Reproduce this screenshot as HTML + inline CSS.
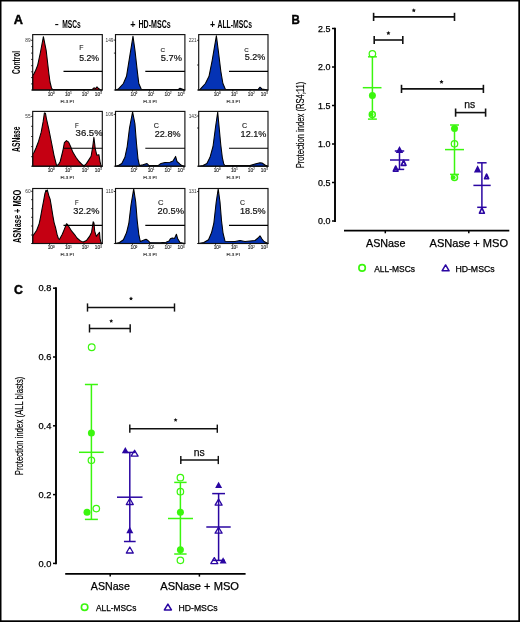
<!DOCTYPE html>
<html><head><meta charset="utf-8"><style>
html,body{margin:0;padding:0;background:#fff;}
svg{display:block;font-family:"Liberation Sans", sans-serif;will-change:transform;}
</style></head><body>
<svg width="520" height="622" viewBox="0 0 520 622">
<rect x="0" y="0" width="520" height="622" fill="#000"/>
<rect x="1.5" y="1.5" width="516.8" height="618.8" fill="#fff"/>
<text x="13.7" y="23.7" font-size="13" font-weight="bold" stroke="#000" stroke-width="0.45" textLength="9.2" lengthAdjust="spacingAndGlyphs">A</text>
<text x="55.0" y="28.0" font-size="11.2" text-anchor="start" font-weight="bold" fill="#000" textLength="3.5" lengthAdjust="spacingAndGlyphs" >–</text>
<text x="62.3" y="28.0" font-size="11.2" text-anchor="start" font-weight="bold" fill="#000" textLength="18.5" lengthAdjust="spacingAndGlyphs" >MSCs</text>
<text x="130.3" y="28.0" font-size="11.2" text-anchor="start" font-weight="bold" fill="#000" textLength="5.3" lengthAdjust="spacingAndGlyphs" >+</text>
<text x="138.5" y="28.0" font-size="11.2" text-anchor="start" font-weight="bold" fill="#000" textLength="32.2" lengthAdjust="spacingAndGlyphs" >HD-MSCs</text>
<text x="210.0" y="28.0" font-size="11.2" text-anchor="start" font-weight="bold" fill="#000" textLength="5.1" lengthAdjust="spacingAndGlyphs" >+</text>
<text x="217.5" y="28.0" font-size="11.2" text-anchor="start" font-weight="bold" fill="#000" textLength="34.5" lengthAdjust="spacingAndGlyphs" >ALL-MSCs</text>
<text transform="translate(16.3,62.5) rotate(-90)" x="0" y="0" font-size="11" text-anchor="middle" font-weight="bold" dominant-baseline="central" stroke="#000" stroke-width="0" textLength="23.2" lengthAdjust="spacingAndGlyphs">Control</text>
<text transform="translate(16.3,139.2) rotate(-90)" x="0" y="0" font-size="11" text-anchor="middle" font-weight="bold" dominant-baseline="central" stroke="#000" stroke-width="0" textLength="25.4" lengthAdjust="spacingAndGlyphs">ASNase</text>
<text transform="translate(16.8,216.35) rotate(-90)" x="0" y="0" font-size="11" text-anchor="middle" font-weight="bold" dominant-baseline="central" stroke="#000" stroke-width="0" textLength="53.3" lengthAdjust="spacingAndGlyphs">ASNase + MSO</text>
<path d="M32.7,90 L32.7,75.4 L33.6,74.4 L35.7,70.3 L37.7,65.1 L40.5,52 L43.4,36.7 L46.2,50.6 L47.3,60 L48.8,73 L50,82 L51.5,88 L52.6,89.6 L92,89.6 L94,87.8 L95.5,88.6 L97,86.8 L98.5,88.5 L100,89.5 L102,90 Z" fill="#c50012" stroke="#000" stroke-width="1.05" stroke-linejoin="round"/>
<rect x="32.7" y="34.6" width="69.60" height="55.40" fill="none" stroke="#111" stroke-width="1.15"/>
<line x1="63.5" y1="71.4" x2="102.3" y2="71.4" stroke="#000" stroke-width="1.1"/>
<text x="79.2" y="50.3" font-size="6.9" text-anchor="start" font-weight="normal" fill="#222" textLength="4.2" lengthAdjust="spacingAndGlyphs" stroke="#222" stroke-width="0.12" >F</text>
<text x="79.2" y="60.699999999999996" font-size="9.0" text-anchor="start" font-weight="normal" fill="#111" textLength="19.9" lengthAdjust="spacingAndGlyphs" stroke="#111" stroke-width="0.2" >5.2%</text>
<line x1="31.1" y1="40.3" x2="32.7" y2="40.3" stroke="#000" stroke-width="0.8"/>
<line x1="31.1" y1="46.6" x2="32.7" y2="46.6" stroke="#000" stroke-width="0.8"/>
<line x1="31.1" y1="53.1" x2="32.7" y2="53.1" stroke="#000" stroke-width="0.8"/>
<line x1="31.1" y1="59.4" x2="32.7" y2="59.4" stroke="#000" stroke-width="0.8"/>
<line x1="31.1" y1="65.7" x2="32.7" y2="65.7" stroke="#000" stroke-width="0.8"/>
<line x1="31.1" y1="71.8" x2="32.7" y2="71.8" stroke="#000" stroke-width="0.8"/>
<line x1="31.1" y1="77.6" x2="32.7" y2="77.6" stroke="#000" stroke-width="0.8"/>
<line x1="31.1" y1="83.9" x2="32.7" y2="83.9" stroke="#000" stroke-width="0.8"/>
<line x1="31.1" y1="90.0" x2="32.7" y2="90.0" stroke="#000" stroke-width="0.8"/>
<text x="30.700000000000003" y="42.0" font-size="4.8" text-anchor="end" font-weight="normal" fill="#333" >89</text>
<text x="51.1" y="95.6" font-size="4.8" text-anchor="middle" font-weight="normal" fill="#222" stroke="#222" stroke-width="0.12" >10<tspan font-size="2.6" dy="-1.6">0</tspan></text>
<text x="68.30000000000001" y="95.6" font-size="4.8" text-anchor="middle" font-weight="normal" fill="#222" stroke="#222" stroke-width="0.12" >10<tspan font-size="2.6" dy="-1.6">1</tspan></text>
<text x="85.2" y="95.6" font-size="4.8" text-anchor="middle" font-weight="normal" fill="#222" stroke="#222" stroke-width="0.12" >10<tspan font-size="2.6" dy="-1.6">2</tspan></text>
<text x="98.2" y="95.6" font-size="4.8" text-anchor="middle" font-weight="normal" fill="#222" stroke="#222" stroke-width="0.12" >10<tspan font-size="2.6" dy="-1.6">3</tspan></text>
<text x="67.2" y="102.6" font-size="4.4" text-anchor="middle" font-weight="normal" fill="#222" textLength="13.5" lengthAdjust="spacingAndGlyphs" stroke="#222" stroke-width="0.12" >FL3 PI</text>
<line x1="49.6" y1="90.0" x2="49.6" y2="91.6" stroke="#000" stroke-width="0.7"/>
<line x1="66.8" y1="90.0" x2="66.8" y2="91.6" stroke="#000" stroke-width="0.7"/>
<line x1="84.0" y1="90.0" x2="84.0" y2="91.6" stroke="#000" stroke-width="0.7"/>
<line x1="101.2" y1="90.0" x2="101.2" y2="91.6" stroke="#000" stroke-width="0.7"/>
<path d="M115.5,90 L118.3,89.1 L123.4,83.5 L126.5,76.3 L129,60.8 L133,36.2 L135,50.6 L137.3,71.1 L138.8,83.5 L141.4,89.5 L178,89.6 L180,88.3 L182,89 L184.8,90 Z" fill="#0533b5" stroke="#000" stroke-width="1.05" stroke-linejoin="round"/>
<rect x="115.5" y="34.6" width="69.40" height="55.40" fill="none" stroke="#111" stroke-width="1.15"/>
<line x1="145.3" y1="71.4" x2="184.9" y2="71.4" stroke="#000" stroke-width="1.1"/>
<text x="160.4" y="51.699999999999996" font-size="6.0" text-anchor="start" font-weight="normal" fill="#222" textLength="4.6" lengthAdjust="spacingAndGlyphs" stroke="#222" stroke-width="0.12" >C</text>
<text x="160.8" y="61.0" font-size="9.0" text-anchor="start" font-weight="normal" fill="#111" textLength="21.1" lengthAdjust="spacingAndGlyphs" stroke="#111" stroke-width="0.2" >5.7%</text>
<line x1="113.9" y1="40.1" x2="115.5" y2="40.1" stroke="#000" stroke-width="0.8"/>
<line x1="113.9" y1="53.1" x2="115.5" y2="53.1" stroke="#000" stroke-width="0.8"/>
<line x1="113.9" y1="90.0" x2="115.5" y2="90.0" stroke="#000" stroke-width="0.8"/>
<text x="113.5" y="41.800000000000004" font-size="4.8" text-anchor="end" font-weight="normal" fill="#333" >149</text>
<text x="133.9" y="95.6" font-size="4.8" text-anchor="middle" font-weight="normal" fill="#222" stroke="#222" stroke-width="0.12" >10<tspan font-size="2.6" dy="-1.6">0</tspan></text>
<text x="151.1" y="95.6" font-size="4.8" text-anchor="middle" font-weight="normal" fill="#222" stroke="#222" stroke-width="0.12" >10<tspan font-size="2.6" dy="-1.6">1</tspan></text>
<text x="168.0" y="95.6" font-size="4.8" text-anchor="middle" font-weight="normal" fill="#222" stroke="#222" stroke-width="0.12" >10<tspan font-size="2.6" dy="-1.6">2</tspan></text>
<text x="181.0" y="95.6" font-size="4.8" text-anchor="middle" font-weight="normal" fill="#222" stroke="#222" stroke-width="0.12" >10<tspan font-size="2.6" dy="-1.6">3</tspan></text>
<text x="150.0" y="102.6" font-size="4.4" text-anchor="middle" font-weight="normal" fill="#222" textLength="13.5" lengthAdjust="spacingAndGlyphs" stroke="#222" stroke-width="0.12" >FL3 PI</text>
<line x1="132.4" y1="90.0" x2="132.4" y2="91.6" stroke="#000" stroke-width="0.7"/>
<line x1="149.6" y1="90.0" x2="149.6" y2="91.6" stroke="#000" stroke-width="0.7"/>
<line x1="166.8" y1="90.0" x2="166.8" y2="91.6" stroke="#000" stroke-width="0.7"/>
<line x1="184.0" y1="90.0" x2="184.0" y2="91.6" stroke="#000" stroke-width="0.7"/>
<path d="M198.7,90 L200.3,89.1 L205.4,83.5 L209,76.3 L212.1,60.8 L216.4,35.7 L218.3,50.6 L220.8,71.1 L222.9,83.5 L225.5,89.5 L258,89.6 L260,87.2 L262,89 L268,90 Z" fill="#0533b5" stroke="#000" stroke-width="1.05" stroke-linejoin="round"/>
<rect x="198.7" y="34.6" width="69.30" height="55.40" fill="none" stroke="#111" stroke-width="1.15"/>
<line x1="229.0" y1="71.4" x2="268.0" y2="71.4" stroke="#000" stroke-width="1.1"/>
<text x="244.2" y="51.9" font-size="6.0" text-anchor="start" font-weight="normal" fill="#222" textLength="4.5" lengthAdjust="spacingAndGlyphs" stroke="#222" stroke-width="0.12" >C</text>
<text x="244.8" y="60.4" font-size="9.0" text-anchor="start" font-weight="normal" fill="#111" textLength="20.6" lengthAdjust="spacingAndGlyphs" stroke="#111" stroke-width="0.2" >5.2%</text>
<line x1="197.1" y1="40.3" x2="198.7" y2="40.3" stroke="#000" stroke-width="0.8"/>
<line x1="197.1" y1="65.0" x2="198.7" y2="65.0" stroke="#000" stroke-width="0.8"/>
<line x1="197.1" y1="90.0" x2="198.7" y2="90.0" stroke="#000" stroke-width="0.8"/>
<text x="196.7" y="42.0" font-size="4.8" text-anchor="end" font-weight="normal" fill="#333" >221</text>
<text x="217.1" y="95.6" font-size="4.8" text-anchor="middle" font-weight="normal" fill="#222" stroke="#222" stroke-width="0.12" >10<tspan font-size="2.6" dy="-1.6">0</tspan></text>
<text x="234.29999999999998" y="95.6" font-size="4.8" text-anchor="middle" font-weight="normal" fill="#222" stroke="#222" stroke-width="0.12" >10<tspan font-size="2.6" dy="-1.6">1</tspan></text>
<text x="251.2" y="95.6" font-size="4.8" text-anchor="middle" font-weight="normal" fill="#222" stroke="#222" stroke-width="0.12" >10<tspan font-size="2.6" dy="-1.6">2</tspan></text>
<text x="264.2" y="95.6" font-size="4.8" text-anchor="middle" font-weight="normal" fill="#222" stroke="#222" stroke-width="0.12" >10<tspan font-size="2.6" dy="-1.6">3</tspan></text>
<text x="233.2" y="102.6" font-size="4.4" text-anchor="middle" font-weight="normal" fill="#222" textLength="13.5" lengthAdjust="spacingAndGlyphs" stroke="#222" stroke-width="0.12" >FL3 PI</text>
<line x1="215.6" y1="90.0" x2="215.6" y2="91.6" stroke="#000" stroke-width="0.7"/>
<line x1="232.8" y1="90.0" x2="232.8" y2="91.6" stroke="#000" stroke-width="0.7"/>
<line x1="250.0" y1="90.0" x2="250.0" y2="91.6" stroke="#000" stroke-width="0.7"/>
<line x1="267.2" y1="90.0" x2="267.2" y2="91.6" stroke="#000" stroke-width="0.7"/>
<path d="M32.7,166.2 L32.7,154 L34,152.5 L36,148 L38.6,141.2 L41.2,132.2 L43.1,121.9 L44.4,112.9 L45.5,113.3 L46.3,118 L48.9,129.6 L51.5,142.5 L54,155.3 L56.6,165.6 L58.5,164.5 L60.2,161.5 L62.8,151 L64.4,142.7 L66.5,140.6 L68.6,142.1 L70.7,146.8 L72.8,152.1 L75.9,157.3 L79,161.5 L82.7,165.1 L84.3,165.7 L86.4,163.6 L88.5,160.4 L91.1,156.3 L92.7,146.8 L93.9,137.4 L95.3,148.9 L96.8,155.2 L98.9,154.7 L100,161.5 L101,165.7 L102.3,166.2 Z" fill="#c50012" stroke="#000" stroke-width="1.05" stroke-linejoin="round"/>
<rect x="32.7" y="111.4" width="69.60" height="54.80" fill="none" stroke="#111" stroke-width="1.15"/>
<line x1="63.5" y1="148.3" x2="102.3" y2="148.3" stroke="#000" stroke-width="1.1"/>
<text x="75.1" y="128.20000000000002" font-size="7.3" text-anchor="start" font-weight="normal" fill="#222" textLength="3.7" lengthAdjust="spacingAndGlyphs" stroke="#222" stroke-width="0.12" >F</text>
<text x="75.6" y="136.10000000000002" font-size="9.0" text-anchor="start" font-weight="normal" fill="#111" textLength="27.1" lengthAdjust="spacingAndGlyphs" stroke="#111" stroke-width="0.2" >36.5%</text>
<line x1="31.1" y1="116.4" x2="32.7" y2="116.4" stroke="#000" stroke-width="0.8"/>
<line x1="31.1" y1="126.3" x2="32.7" y2="126.3" stroke="#000" stroke-width="0.8"/>
<line x1="31.1" y1="136.5" x2="32.7" y2="136.5" stroke="#000" stroke-width="0.8"/>
<line x1="31.1" y1="146.6" x2="32.7" y2="146.6" stroke="#000" stroke-width="0.8"/>
<line x1="31.1" y1="156.7" x2="32.7" y2="156.7" stroke="#000" stroke-width="0.8"/>
<line x1="31.1" y1="166.2" x2="32.7" y2="166.2" stroke="#000" stroke-width="0.8"/>
<text x="30.700000000000003" y="118.10000000000001" font-size="4.8" text-anchor="end" font-weight="normal" fill="#333" >55</text>
<text x="51.1" y="171.79999999999998" font-size="4.8" text-anchor="middle" font-weight="normal" fill="#222" stroke="#222" stroke-width="0.12" >10<tspan font-size="2.6" dy="-1.6">0</tspan></text>
<text x="68.30000000000001" y="171.79999999999998" font-size="4.8" text-anchor="middle" font-weight="normal" fill="#222" stroke="#222" stroke-width="0.12" >10<tspan font-size="2.6" dy="-1.6">1</tspan></text>
<text x="85.2" y="171.79999999999998" font-size="4.8" text-anchor="middle" font-weight="normal" fill="#222" stroke="#222" stroke-width="0.12" >10<tspan font-size="2.6" dy="-1.6">2</tspan></text>
<text x="98.2" y="171.79999999999998" font-size="4.8" text-anchor="middle" font-weight="normal" fill="#222" stroke="#222" stroke-width="0.12" >10<tspan font-size="2.6" dy="-1.6">3</tspan></text>
<text x="67.2" y="178.79999999999998" font-size="4.4" text-anchor="middle" font-weight="normal" fill="#222" textLength="13.5" lengthAdjust="spacingAndGlyphs" stroke="#222" stroke-width="0.12" >FL3 PI</text>
<line x1="49.6" y1="166.2" x2="49.6" y2="167.79999999999998" stroke="#000" stroke-width="0.7"/>
<line x1="66.8" y1="166.2" x2="66.8" y2="167.79999999999998" stroke="#000" stroke-width="0.7"/>
<line x1="84.0" y1="166.2" x2="84.0" y2="167.79999999999998" stroke="#000" stroke-width="0.7"/>
<line x1="101.2" y1="166.2" x2="101.2" y2="167.79999999999998" stroke="#000" stroke-width="0.7"/>
<path d="M115.5,166.2 L118.8,165.3 L121.8,163.5 L124.9,157.3 L127.2,146.5 L129.5,128 L132.6,111.9 L134.9,123.5 L136.5,143.5 L138,158.8 L139.5,165.6 L143,164.8 L147,163.5 L149,165.6 L158,165.6 L161,163.4 L165,162.6 L170,162.2 L173,161 L175.6,156.4 L177,161.5 L180,164.2 L182,165.6 L184.9,166.2 Z" fill="#0533b5" stroke="#000" stroke-width="1.05" stroke-linejoin="round"/>
<rect x="115.5" y="111.4" width="69.40" height="54.80" fill="none" stroke="#111" stroke-width="1.15"/>
<line x1="145.3" y1="148.3" x2="184.9" y2="148.3" stroke="#000" stroke-width="1.1"/>
<text x="153.8" y="128.20000000000002" font-size="7.3" text-anchor="start" font-weight="normal" fill="#222" textLength="5.2" lengthAdjust="spacingAndGlyphs" stroke="#222" stroke-width="0.12" >C</text>
<text x="154.8" y="136.9" font-size="9.0" text-anchor="start" font-weight="normal" fill="#111" textLength="25.7" lengthAdjust="spacingAndGlyphs" stroke="#111" stroke-width="0.2" >22.8%</text>
<line x1="113.9" y1="114.4" x2="115.5" y2="114.4" stroke="#000" stroke-width="0.8"/>
<line x1="113.9" y1="166.2" x2="115.5" y2="166.2" stroke="#000" stroke-width="0.8"/>
<text x="113.5" y="116.10000000000001" font-size="4.8" text-anchor="end" font-weight="normal" fill="#333" >106</text>
<text x="133.9" y="171.79999999999998" font-size="4.8" text-anchor="middle" font-weight="normal" fill="#222" stroke="#222" stroke-width="0.12" >10<tspan font-size="2.6" dy="-1.6">0</tspan></text>
<text x="151.1" y="171.79999999999998" font-size="4.8" text-anchor="middle" font-weight="normal" fill="#222" stroke="#222" stroke-width="0.12" >10<tspan font-size="2.6" dy="-1.6">1</tspan></text>
<text x="168.0" y="171.79999999999998" font-size="4.8" text-anchor="middle" font-weight="normal" fill="#222" stroke="#222" stroke-width="0.12" >10<tspan font-size="2.6" dy="-1.6">2</tspan></text>
<text x="181.0" y="171.79999999999998" font-size="4.8" text-anchor="middle" font-weight="normal" fill="#222" stroke="#222" stroke-width="0.12" >10<tspan font-size="2.6" dy="-1.6">3</tspan></text>
<text x="150.0" y="178.79999999999998" font-size="4.4" text-anchor="middle" font-weight="normal" fill="#222" textLength="13.5" lengthAdjust="spacingAndGlyphs" stroke="#222" stroke-width="0.12" >FL3 PI</text>
<line x1="132.4" y1="166.2" x2="132.4" y2="167.79999999999998" stroke="#000" stroke-width="0.7"/>
<line x1="149.6" y1="166.2" x2="149.6" y2="167.79999999999998" stroke="#000" stroke-width="0.7"/>
<line x1="166.8" y1="166.2" x2="166.8" y2="167.79999999999998" stroke="#000" stroke-width="0.7"/>
<line x1="184.0" y1="166.2" x2="184.0" y2="167.79999999999998" stroke="#000" stroke-width="0.7"/>
<path d="M198.7,166.2 L203,165.5 L206.9,163.5 L210,157.3 L213,146.5 L215.4,128 L217.7,112 L219.2,128 L220.8,145 L222.3,157.3 L223.8,164.2 L225,165.5 L250,165.5 L255,164 L260,162.7 L262,163 L265,165 L268,166.2 Z" fill="#0533b5" stroke="#000" stroke-width="1.05" stroke-linejoin="round"/>
<rect x="198.7" y="111.4" width="69.30" height="54.80" fill="none" stroke="#111" stroke-width="1.15"/>
<line x1="229.0" y1="148.3" x2="268.0" y2="148.3" stroke="#000" stroke-width="1.1"/>
<text x="241.9" y="128.20000000000002" font-size="7.3" text-anchor="start" font-weight="normal" fill="#222" textLength="5.2" lengthAdjust="spacingAndGlyphs" stroke="#222" stroke-width="0.12" >C</text>
<text x="240.6" y="136.8" font-size="9.0" text-anchor="start" font-weight="normal" fill="#111" textLength="25.8" lengthAdjust="spacingAndGlyphs" stroke="#111" stroke-width="0.2" >12.1%</text>
<line x1="197.1" y1="116.0" x2="198.7" y2="116.0" stroke="#000" stroke-width="0.8"/>
<line x1="197.1" y1="128.0" x2="198.7" y2="128.0" stroke="#000" stroke-width="0.8"/>
<line x1="197.1" y1="166.2" x2="198.7" y2="166.2" stroke="#000" stroke-width="0.8"/>
<text x="196.7" y="117.7" font-size="4.8" text-anchor="end" font-weight="normal" fill="#333" >143</text>
<text x="217.1" y="171.79999999999998" font-size="4.8" text-anchor="middle" font-weight="normal" fill="#222" stroke="#222" stroke-width="0.12" >10<tspan font-size="2.6" dy="-1.6">0</tspan></text>
<text x="234.29999999999998" y="171.79999999999998" font-size="4.8" text-anchor="middle" font-weight="normal" fill="#222" stroke="#222" stroke-width="0.12" >10<tspan font-size="2.6" dy="-1.6">1</tspan></text>
<text x="251.2" y="171.79999999999998" font-size="4.8" text-anchor="middle" font-weight="normal" fill="#222" stroke="#222" stroke-width="0.12" >10<tspan font-size="2.6" dy="-1.6">2</tspan></text>
<text x="264.2" y="171.79999999999998" font-size="4.8" text-anchor="middle" font-weight="normal" fill="#222" stroke="#222" stroke-width="0.12" >10<tspan font-size="2.6" dy="-1.6">3</tspan></text>
<text x="233.2" y="178.79999999999998" font-size="4.4" text-anchor="middle" font-weight="normal" fill="#222" textLength="13.5" lengthAdjust="spacingAndGlyphs" stroke="#222" stroke-width="0.12" >FL3 PI</text>
<line x1="215.6" y1="166.2" x2="215.6" y2="167.79999999999998" stroke="#000" stroke-width="0.7"/>
<line x1="232.8" y1="166.2" x2="232.8" y2="167.79999999999998" stroke="#000" stroke-width="0.7"/>
<line x1="250.0" y1="166.2" x2="250.0" y2="167.79999999999998" stroke="#000" stroke-width="0.7"/>
<line x1="267.2" y1="166.2" x2="267.2" y2="167.79999999999998" stroke="#000" stroke-width="0.7"/>
<path d="M32.7,243.5 L32.7,236.1 L34.5,233.5 L36.7,230.3 L39.2,223.6 L40.6,216.8 L42,209.1 L43.5,201.4 L44.9,193.7 L45.9,190.3 L46.6,191.5 L47.3,189.9 L48.8,195.6 L50.2,199.5 L51.2,205.3 L52.7,214.9 L54.1,222.6 L55.5,227.4 L57,234.2 L58.4,238.5 L59.4,239.5 L62.3,234.3 L64.4,229.1 L66.5,223.8 L67.5,224.5 L69.1,227 L71.7,231.2 L74.4,234.3 L77,238 L80.1,240.6 L83.2,242.1 L86.4,240.6 L89.5,236.4 L91.6,232.2 L93.2,221.7 L94,223 L94.7,231.2 L96.3,236.4 L97.9,234.3 L99.5,232.2 L100,238.5 L101,242.7 L102.3,243.5 Z" fill="#c50012" stroke="#000" stroke-width="1.05" stroke-linejoin="round"/>
<rect x="32.7" y="188.5" width="69.60" height="55.00" fill="none" stroke="#111" stroke-width="1.15"/>
<line x1="63.5" y1="225.4" x2="102.3" y2="225.4" stroke="#000" stroke-width="1.1"/>
<text x="74.9" y="205.3" font-size="7.3" text-anchor="start" font-weight="normal" fill="#222" textLength="3.6" lengthAdjust="spacingAndGlyphs" stroke="#222" stroke-width="0.12" >F</text>
<text x="73.3" y="213.8" font-size="9.0" text-anchor="start" font-weight="normal" fill="#111" textLength="26.1" lengthAdjust="spacingAndGlyphs" stroke="#111" stroke-width="0.2" >32.2%</text>
<line x1="31.1" y1="191.3" x2="32.7" y2="191.3" stroke="#000" stroke-width="0.8"/>
<line x1="31.1" y1="199.7" x2="32.7" y2="199.7" stroke="#000" stroke-width="0.8"/>
<line x1="31.1" y1="208.6" x2="32.7" y2="208.6" stroke="#000" stroke-width="0.8"/>
<line x1="31.1" y1="217.3" x2="32.7" y2="217.3" stroke="#000" stroke-width="0.8"/>
<line x1="31.1" y1="226.0" x2="32.7" y2="226.0" stroke="#000" stroke-width="0.8"/>
<line x1="31.1" y1="235.0" x2="32.7" y2="235.0" stroke="#000" stroke-width="0.8"/>
<line x1="31.1" y1="243.5" x2="32.7" y2="243.5" stroke="#000" stroke-width="0.8"/>
<text x="30.700000000000003" y="193.0" font-size="4.8" text-anchor="end" font-weight="normal" fill="#333" >60</text>
<text x="51.1" y="249.1" font-size="4.8" text-anchor="middle" font-weight="normal" fill="#222" stroke="#222" stroke-width="0.12" >10<tspan font-size="2.6" dy="-1.6">0</tspan></text>
<text x="68.30000000000001" y="249.1" font-size="4.8" text-anchor="middle" font-weight="normal" fill="#222" stroke="#222" stroke-width="0.12" >10<tspan font-size="2.6" dy="-1.6">1</tspan></text>
<text x="85.2" y="249.1" font-size="4.8" text-anchor="middle" font-weight="normal" fill="#222" stroke="#222" stroke-width="0.12" >10<tspan font-size="2.6" dy="-1.6">2</tspan></text>
<text x="98.2" y="249.1" font-size="4.8" text-anchor="middle" font-weight="normal" fill="#222" stroke="#222" stroke-width="0.12" >10<tspan font-size="2.6" dy="-1.6">3</tspan></text>
<text x="67.2" y="256.1" font-size="4.4" text-anchor="middle" font-weight="normal" fill="#222" textLength="13.5" lengthAdjust="spacingAndGlyphs" stroke="#222" stroke-width="0.12" >FL3 PI</text>
<line x1="49.6" y1="243.5" x2="49.6" y2="245.1" stroke="#000" stroke-width="0.7"/>
<line x1="66.8" y1="243.5" x2="66.8" y2="245.1" stroke="#000" stroke-width="0.7"/>
<line x1="84.0" y1="243.5" x2="84.0" y2="245.1" stroke="#000" stroke-width="0.7"/>
<line x1="101.2" y1="243.5" x2="101.2" y2="245.1" stroke="#000" stroke-width="0.7"/>
<path d="M115.5,243.5 L119.5,242.5 L123.4,239.7 L126.5,232.8 L128.8,223.5 L131,205 L133.7,188.9 L135.7,202 L137.2,220.5 L138.8,234.3 L140.3,241.5 L143.4,240.2 L146,239.3 L148,240.5 L150,242.6 L160,242.8 L166,242.2 L169,241 L170.4,238.8 L172.3,238.1 L174.5,238.4 L176.4,234.2 L177.6,238.5 L180,242.6 L184.8,243.5 Z" fill="#0533b5" stroke="#000" stroke-width="1.05" stroke-linejoin="round"/>
<rect x="115.5" y="188.5" width="69.40" height="55.00" fill="none" stroke="#111" stroke-width="1.15"/>
<line x1="145.3" y1="225.4" x2="184.9" y2="225.4" stroke="#000" stroke-width="1.1"/>
<text x="158.0" y="204.5" font-size="6.5" text-anchor="start" font-weight="normal" fill="#222" textLength="5.5" lengthAdjust="spacingAndGlyphs" stroke="#222" stroke-width="0.12" >C</text>
<text x="157.6" y="213.8" font-size="9.0" text-anchor="start" font-weight="normal" fill="#111" textLength="26.4" lengthAdjust="spacingAndGlyphs" stroke="#111" stroke-width="0.2" >20.5%</text>
<line x1="113.9" y1="191.5" x2="115.5" y2="191.5" stroke="#000" stroke-width="0.8"/>
<line x1="113.9" y1="243.5" x2="115.5" y2="243.5" stroke="#000" stroke-width="0.8"/>
<text x="113.5" y="193.2" font-size="4.8" text-anchor="end" font-weight="normal" fill="#333" >110</text>
<text x="133.9" y="249.1" font-size="4.8" text-anchor="middle" font-weight="normal" fill="#222" stroke="#222" stroke-width="0.12" >10<tspan font-size="2.6" dy="-1.6">0</tspan></text>
<text x="151.1" y="249.1" font-size="4.8" text-anchor="middle" font-weight="normal" fill="#222" stroke="#222" stroke-width="0.12" >10<tspan font-size="2.6" dy="-1.6">1</tspan></text>
<text x="168.0" y="249.1" font-size="4.8" text-anchor="middle" font-weight="normal" fill="#222" stroke="#222" stroke-width="0.12" >10<tspan font-size="2.6" dy="-1.6">2</tspan></text>
<text x="181.0" y="249.1" font-size="4.8" text-anchor="middle" font-weight="normal" fill="#222" stroke="#222" stroke-width="0.12" >10<tspan font-size="2.6" dy="-1.6">3</tspan></text>
<text x="150.0" y="256.1" font-size="4.4" text-anchor="middle" font-weight="normal" fill="#222" textLength="13.5" lengthAdjust="spacingAndGlyphs" stroke="#222" stroke-width="0.12" >FL3 PI</text>
<line x1="132.4" y1="243.5" x2="132.4" y2="245.1" stroke="#000" stroke-width="0.7"/>
<line x1="149.6" y1="243.5" x2="149.6" y2="245.1" stroke="#000" stroke-width="0.7"/>
<line x1="166.8" y1="243.5" x2="166.8" y2="245.1" stroke="#000" stroke-width="0.7"/>
<line x1="184.0" y1="243.5" x2="184.0" y2="245.1" stroke="#000" stroke-width="0.7"/>
<path d="M198.7,243.5 L203.8,242.5 L208.5,239.7 L211.5,232.8 L213.8,223.5 L216.2,202 L218.2,188.9 L220,202 L221.5,220.5 L223,232.8 L225,241.2 L235,241.5 L240,240.5 L245,241.5 L255,240.5 L258,238 L260,235.8 L262,239 L264,241.5 L268,243.5 Z" fill="#0533b5" stroke="#000" stroke-width="1.05" stroke-linejoin="round"/>
<rect x="198.7" y="188.5" width="69.30" height="55.00" fill="none" stroke="#111" stroke-width="1.15"/>
<line x1="229.0" y1="225.4" x2="268.0" y2="225.4" stroke="#000" stroke-width="1.1"/>
<text x="240.1" y="204.9" font-size="6.8" text-anchor="start" font-weight="normal" fill="#222" textLength="5.0" lengthAdjust="spacingAndGlyphs" stroke="#222" stroke-width="0.12" >C</text>
<text x="239.9" y="213.8" font-size="9.0" text-anchor="start" font-weight="normal" fill="#111" textLength="25.8" lengthAdjust="spacingAndGlyphs" stroke="#111" stroke-width="0.2" >18.5%</text>
<line x1="197.1" y1="191.5" x2="198.7" y2="191.5" stroke="#000" stroke-width="0.8"/>
<line x1="197.1" y1="243.5" x2="198.7" y2="243.5" stroke="#000" stroke-width="0.8"/>
<text x="196.7" y="193.2" font-size="4.8" text-anchor="end" font-weight="normal" fill="#333" >131</text>
<text x="217.1" y="249.1" font-size="4.8" text-anchor="middle" font-weight="normal" fill="#222" stroke="#222" stroke-width="0.12" >10<tspan font-size="2.6" dy="-1.6">0</tspan></text>
<text x="234.29999999999998" y="249.1" font-size="4.8" text-anchor="middle" font-weight="normal" fill="#222" stroke="#222" stroke-width="0.12" >10<tspan font-size="2.6" dy="-1.6">1</tspan></text>
<text x="251.2" y="249.1" font-size="4.8" text-anchor="middle" font-weight="normal" fill="#222" stroke="#222" stroke-width="0.12" >10<tspan font-size="2.6" dy="-1.6">2</tspan></text>
<text x="264.2" y="249.1" font-size="4.8" text-anchor="middle" font-weight="normal" fill="#222" stroke="#222" stroke-width="0.12" >10<tspan font-size="2.6" dy="-1.6">3</tspan></text>
<text x="233.2" y="256.1" font-size="4.4" text-anchor="middle" font-weight="normal" fill="#222" textLength="13.5" lengthAdjust="spacingAndGlyphs" stroke="#222" stroke-width="0.12" >FL3 PI</text>
<line x1="215.6" y1="243.5" x2="215.6" y2="245.1" stroke="#000" stroke-width="0.7"/>
<line x1="232.8" y1="243.5" x2="232.8" y2="245.1" stroke="#000" stroke-width="0.7"/>
<line x1="250.0" y1="243.5" x2="250.0" y2="245.1" stroke="#000" stroke-width="0.7"/>
<line x1="267.2" y1="243.5" x2="267.2" y2="245.1" stroke="#000" stroke-width="0.7"/>
<text x="291.5" y="23.8" font-size="13" text-anchor="start" font-weight="bold" fill="#000" textLength="8.3" lengthAdjust="spacingAndGlyphs" stroke="#000" stroke-width="0.45">B</text>
<line x1="335" y1="27.8" x2="335" y2="221.9" stroke="#000" stroke-width="1.9"/>
<line x1="332" y1="28.5" x2="335" y2="28.5" stroke="#000" stroke-width="1.5"/>
<text x="330.5" y="31.7" font-size="9" text-anchor="end" font-weight="normal" fill="#000" textLength="12.4" lengthAdjust="spacingAndGlyphs" stroke="#000" stroke-width="0.25" >2.5</text>
<line x1="332" y1="67.0" x2="335" y2="67.0" stroke="#000" stroke-width="1.5"/>
<text x="330.5" y="70.2" font-size="9" text-anchor="end" font-weight="normal" fill="#000" textLength="12.4" lengthAdjust="spacingAndGlyphs" stroke="#000" stroke-width="0.25" >2.0</text>
<line x1="332" y1="105.5" x2="335" y2="105.5" stroke="#000" stroke-width="1.5"/>
<text x="330.5" y="108.7" font-size="9" text-anchor="end" font-weight="normal" fill="#000" textLength="12.4" lengthAdjust="spacingAndGlyphs" stroke="#000" stroke-width="0.25" >1.5</text>
<line x1="332" y1="144.0" x2="335" y2="144.0" stroke="#000" stroke-width="1.5"/>
<text x="330.5" y="147.2" font-size="9" text-anchor="end" font-weight="normal" fill="#000" textLength="12.4" lengthAdjust="spacingAndGlyphs" stroke="#000" stroke-width="0.25" >1.0</text>
<line x1="332" y1="182.5" x2="335" y2="182.5" stroke="#000" stroke-width="1.5"/>
<text x="330.5" y="185.7" font-size="9" text-anchor="end" font-weight="normal" fill="#000" textLength="12.4" lengthAdjust="spacingAndGlyphs" stroke="#000" stroke-width="0.25" >0.5</text>
<line x1="332" y1="221.0" x2="335" y2="221.0" stroke="#000" stroke-width="1.5"/>
<text x="330.5" y="224.2" font-size="9" text-anchor="end" font-weight="normal" fill="#000" textLength="12.4" lengthAdjust="spacingAndGlyphs" stroke="#000" stroke-width="0.25" >0.0</text>
<text transform="translate(299.8,125.0) rotate(-90)" x="0" y="0" font-size="11.2" text-anchor="middle" font-weight="normal" dominant-baseline="central" stroke="#000" stroke-width="0.2" textLength="86.6" lengthAdjust="spacingAndGlyphs">Protection index (RS4;11)</text>
<line x1="344" y1="230.6" x2="509.3" y2="230.6" stroke="#000" stroke-width="1.9"/>
<line x1="385.3" y1="230.6" x2="385.3" y2="233.3" stroke="#000" stroke-width="1.5"/>
<line x1="468.8" y1="230.6" x2="468.8" y2="233.3" stroke="#000" stroke-width="1.5"/>
<text x="385.7" y="247.3" font-size="11" text-anchor="middle" font-weight="normal" fill="#000" textLength="39.4" lengthAdjust="spacingAndGlyphs" stroke="#000" stroke-width="0.25" >ASNase</text>
<text x="468.8" y="247.3" font-size="11" text-anchor="middle" font-weight="normal" fill="#000" textLength="78.5" lengthAdjust="spacingAndGlyphs" stroke="#000" stroke-width="0.25" >ASNase + MSO</text>
<circle cx="362.1" cy="267.9" r="3.22" fill="none" stroke="#3bf60e" stroke-width="1.65"/>
<text x="374.2" y="271.6" font-size="8.6" text-anchor="start" font-weight="normal" fill="#000" textLength="40.8" lengthAdjust="spacingAndGlyphs" stroke="#000" stroke-width="0.25" >ALL-MSCs</text>
<polygon points="445.6,264.94 449.12,270.86 442.08,270.86" fill="none" stroke="#2a06a2" stroke-width="1.5" stroke-linejoin="round"/>
<text x="455.4" y="271.6" font-size="8.6" text-anchor="start" font-weight="normal" fill="#000" textLength="39.2" lengthAdjust="spacingAndGlyphs" stroke="#000" stroke-width="0.25" >HD-MSCs</text>
<line x1="373.6" y1="16.9" x2="454.5" y2="16.9" stroke="#111" stroke-width="1.6"/>
<line x1="373.6" y1="12.799999999999999" x2="373.6" y2="21.0" stroke="#111" stroke-width="1.6"/>
<line x1="454.5" y1="12.799999999999999" x2="454.5" y2="21.0" stroke="#111" stroke-width="1.6"/>
<polygon points="413.80,8.20 414.45,9.51 415.89,9.72 414.85,10.74 415.09,12.18 413.80,11.50 412.51,12.18 412.75,10.74 411.71,9.72 413.15,9.51" fill="#111"/>
<line x1="374.2" y1="40.0" x2="402.8" y2="40.0" stroke="#111" stroke-width="1.6"/>
<line x1="374.2" y1="35.9" x2="374.2" y2="44.1" stroke="#111" stroke-width="1.6"/>
<line x1="402.8" y1="35.9" x2="402.8" y2="44.1" stroke="#111" stroke-width="1.6"/>
<polygon points="388.40,30.90 389.05,32.21 390.49,32.42 389.45,33.44 389.69,34.88 388.40,34.20 387.11,34.88 387.35,33.44 386.31,32.42 387.75,32.21" fill="#111"/>
<line x1="401.5" y1="88.9" x2="483.4" y2="88.9" stroke="#111" stroke-width="1.6"/>
<line x1="401.5" y1="84.80000000000001" x2="401.5" y2="93.0" stroke="#111" stroke-width="1.6"/>
<line x1="483.4" y1="84.80000000000001" x2="483.4" y2="93.0" stroke="#111" stroke-width="1.6"/>
<polygon points="441.50,79.70 442.15,81.01 443.59,81.22 442.55,82.24 442.79,83.68 441.50,83.00 440.21,83.68 440.45,82.24 439.41,81.22 440.85,81.01" fill="#111"/>
<line x1="455.6" y1="112.6" x2="485.6" y2="112.6" stroke="#111" stroke-width="1.6"/>
<line x1="455.6" y1="108.5" x2="455.6" y2="116.69999999999999" stroke="#111" stroke-width="1.6"/>
<line x1="485.6" y1="108.5" x2="485.6" y2="116.69999999999999" stroke="#111" stroke-width="1.6"/>
<text x="469.7" y="108.1" font-size="10" text-anchor="middle" font-weight="normal" fill="#111" textLength="11" lengthAdjust="spacingAndGlyphs" stroke="#111" stroke-width="0.25" >ns</text>
<line x1="372.4" y1="56.8" x2="372.4" y2="119.1" stroke="#3bf60e" stroke-width="1.5"/>
<line x1="367.95" y1="56.8" x2="376.84999999999997" y2="56.8" stroke="#3bf60e" stroke-width="1.5"/>
<line x1="367.95" y1="119.1" x2="376.84999999999997" y2="119.1" stroke="#3bf60e" stroke-width="1.5"/>
<line x1="362.8" y1="87.7" x2="381.5" y2="87.7" stroke="#3bf60e" stroke-width="1.5"/>
<circle cx="372.4" cy="53.8" r="3.23" fill="none" stroke="#3bf60e" stroke-width="1.25"/>
<circle cx="372.4" cy="95.5" r="3.50" fill="#3bf60e"/>
<circle cx="372.3" cy="114.4" r="3.00" fill="none" stroke="#3bf60e" stroke-width="1.5"/>
<circle cx="371.3" cy="114.4" r="2.10" fill="#3bf60e"/>
<line x1="399.5" y1="151.0" x2="399.5" y2="169.4" stroke="#2a06a2" stroke-width="1.5"/>
<line x1="394.8" y1="151.0" x2="404.2" y2="151.0" stroke="#2a06a2" stroke-width="1.5"/>
<line x1="394.8" y1="169.4" x2="404.2" y2="169.4" stroke="#2a06a2" stroke-width="1.5"/>
<line x1="390.0" y1="160.0" x2="409.3" y2="160.0" stroke="#2a06a2" stroke-width="1.5"/>
<polygon points="399.5,146.10 403.20,153.10 395.80,153.10" fill="#2a06a2"/>
<polygon points="403.6,160.31 405.96,165.29 401.25,165.29" fill="none" stroke="#2a06a2" stroke-width="1.7" stroke-linejoin="round"/>
<polygon points="395.7,166.11 398.06,171.09 393.34,171.09" fill="none" stroke="#2a06a2" stroke-width="1.7" stroke-linejoin="round"/>
<line x1="454.5" y1="125.0" x2="454.5" y2="174.4" stroke="#3bf60e" stroke-width="1.5"/>
<line x1="450.05" y1="125.0" x2="458.95" y2="125.0" stroke="#3bf60e" stroke-width="1.5"/>
<line x1="450.05" y1="174.4" x2="458.95" y2="174.4" stroke="#3bf60e" stroke-width="1.5"/>
<line x1="445.0" y1="149.6" x2="464.0" y2="149.6" stroke="#3bf60e" stroke-width="1.5"/>
<circle cx="454.5" cy="128.4" r="3.50" fill="#3bf60e"/>
<circle cx="454.5" cy="143.8" r="3.23" fill="none" stroke="#3bf60e" stroke-width="1.25"/>
<circle cx="454.5" cy="177.5" r="3.00" fill="none" stroke="#3bf60e" stroke-width="1.5"/>
<circle cx="453.5" cy="177.5" r="2.10" fill="#3bf60e"/>
<line x1="481.9" y1="162.8" x2="481.9" y2="207.3" stroke="#2a06a2" stroke-width="1.5"/>
<line x1="477.2" y1="162.8" x2="486.59999999999997" y2="162.8" stroke="#2a06a2" stroke-width="1.5"/>
<line x1="477.2" y1="207.3" x2="486.59999999999997" y2="207.3" stroke="#2a06a2" stroke-width="1.5"/>
<line x1="473.4" y1="185.4" x2="490.7" y2="185.4" stroke="#2a06a2" stroke-width="1.5"/>
<polygon points="477.6,165.35 481.30,172.45 473.90,172.45" fill="#2a06a2"/>
<polygon points="486.6,174.34 488.49,178.66 484.72,178.66" fill="none" stroke="#2a06a2" stroke-width="1.9" stroke-linejoin="round"/>
<polygon points="481.9,207.80 484.34,213.20 479.46,213.20" fill="none" stroke="#2a06a2" stroke-width="1.6" stroke-linejoin="round"/>
<text x="13.9" y="293.9" font-size="13" text-anchor="start" font-weight="bold" fill="#000" textLength="8.9" lengthAdjust="spacingAndGlyphs" stroke="#000" stroke-width="0.45">C</text>
<line x1="56" y1="287.3" x2="56" y2="564.3" stroke="#000" stroke-width="1.9"/>
<line x1="53" y1="288.2" x2="56" y2="288.2" stroke="#000" stroke-width="1.5"/>
<text x="51.3" y="291.4" font-size="9" text-anchor="end" font-weight="normal" fill="#000" textLength="12.9" lengthAdjust="spacingAndGlyphs" stroke="#000" stroke-width="0.25" >0.8</text>
<line x1="53" y1="357.0" x2="56" y2="357.0" stroke="#000" stroke-width="1.5"/>
<text x="51.3" y="360.2" font-size="9" text-anchor="end" font-weight="normal" fill="#000" textLength="12.9" lengthAdjust="spacingAndGlyphs" stroke="#000" stroke-width="0.25" >0.6</text>
<line x1="53" y1="425.8" x2="56" y2="425.8" stroke="#000" stroke-width="1.5"/>
<text x="51.3" y="428.99999999999994" font-size="9" text-anchor="end" font-weight="normal" fill="#000" textLength="12.9" lengthAdjust="spacingAndGlyphs" stroke="#000" stroke-width="0.25" >0.4</text>
<line x1="53" y1="494.6" x2="56" y2="494.6" stroke="#000" stroke-width="1.5"/>
<text x="51.3" y="497.79999999999995" font-size="9" text-anchor="end" font-weight="normal" fill="#000" textLength="12.9" lengthAdjust="spacingAndGlyphs" stroke="#000" stroke-width="0.25" >0.2</text>
<line x1="53" y1="563.4" x2="56" y2="563.4" stroke="#000" stroke-width="1.5"/>
<text x="51.3" y="566.6" font-size="9" text-anchor="end" font-weight="normal" fill="#000" textLength="12.9" lengthAdjust="spacingAndGlyphs" stroke="#000" stroke-width="0.25" >0.0</text>
<text transform="translate(19.1,425.9) rotate(-90)" x="0" y="0" font-size="11.2" text-anchor="middle" font-weight="normal" dominant-baseline="central" stroke="#000" stroke-width="0.2" textLength="98.6" lengthAdjust="spacingAndGlyphs">Protection index (ALL blasts)</text>
<line x1="65.2" y1="573.9" x2="245.6" y2="573.9" stroke="#000" stroke-width="1.9"/>
<line x1="110.2" y1="573.9" x2="110.2" y2="576.6" stroke="#000" stroke-width="1.5"/>
<line x1="199.4" y1="573.9" x2="199.4" y2="576.6" stroke="#000" stroke-width="1.5"/>
<text x="110.3" y="590.2" font-size="11" text-anchor="middle" font-weight="normal" fill="#000" textLength="39.0" lengthAdjust="spacingAndGlyphs" stroke="#000" stroke-width="0.25" >ASNase</text>
<text x="199.6" y="590.2" font-size="11" text-anchor="middle" font-weight="normal" fill="#000" textLength="78.7" lengthAdjust="spacingAndGlyphs" stroke="#000" stroke-width="0.25" >ASNase + MSO</text>
<circle cx="84.6" cy="607.2" r="3.22" fill="none" stroke="#3bf60e" stroke-width="1.65"/>
<text x="96.0" y="610.8" font-size="8.6" text-anchor="start" font-weight="normal" fill="#000" textLength="40.3" lengthAdjust="spacingAndGlyphs" stroke="#000" stroke-width="0.25" >ALL-MSCs</text>
<polygon points="167.9,604.04 171.43,609.96 164.38,609.96" fill="none" stroke="#2a06a2" stroke-width="1.5" stroke-linejoin="round"/>
<text x="178.5" y="610.8" font-size="8.6" text-anchor="start" font-weight="normal" fill="#000" textLength="39.0" lengthAdjust="spacingAndGlyphs" stroke="#000" stroke-width="0.25" >HD-MSCs</text>
<line x1="87.5" y1="307.5" x2="174.5" y2="307.5" stroke="#111" stroke-width="1.45"/>
<line x1="87.5" y1="303.4" x2="87.5" y2="311.6" stroke="#111" stroke-width="1.45"/>
<line x1="174.5" y1="303.4" x2="174.5" y2="311.6" stroke="#111" stroke-width="1.45"/>
<polygon points="131.00,296.50 131.62,297.75 133.00,297.95 132.00,298.92 132.23,300.30 131.00,299.65 129.77,300.30 130.00,298.92 129.00,297.95 130.38,297.75" fill="#111"/>
<line x1="89.5" y1="328.4" x2="130.2" y2="328.4" stroke="#111" stroke-width="1.45"/>
<line x1="89.5" y1="324.29999999999995" x2="89.5" y2="332.5" stroke="#111" stroke-width="1.45"/>
<line x1="130.2" y1="324.29999999999995" x2="130.2" y2="332.5" stroke="#111" stroke-width="1.45"/>
<polygon points="111.20,318.90 111.82,320.15 113.20,320.35 112.20,321.32 112.43,322.70 111.20,322.05 109.97,322.70 110.20,321.32 109.20,320.35 110.58,320.15" fill="#111"/>
<line x1="129.8" y1="428.7" x2="217.3" y2="428.7" stroke="#111" stroke-width="1.45"/>
<line x1="129.8" y1="424.59999999999997" x2="129.8" y2="432.8" stroke="#111" stroke-width="1.45"/>
<line x1="217.3" y1="424.59999999999997" x2="217.3" y2="432.8" stroke="#111" stroke-width="1.45"/>
<polygon points="175.60,417.90 176.22,419.15 177.60,419.35 176.60,420.32 176.83,421.70 175.60,421.05 174.37,421.70 174.60,420.32 173.60,419.35 174.98,419.15" fill="#111"/>
<line x1="180.8" y1="460.0" x2="218.3" y2="460.0" stroke="#111" stroke-width="1.45"/>
<line x1="180.8" y1="455.9" x2="180.8" y2="464.1" stroke="#111" stroke-width="1.45"/>
<line x1="218.3" y1="455.9" x2="218.3" y2="464.1" stroke="#111" stroke-width="1.45"/>
<text x="199.3" y="456.2" font-size="10" text-anchor="middle" font-weight="normal" fill="#111" textLength="11" lengthAdjust="spacingAndGlyphs" stroke="#111" stroke-width="0.25" >ns</text>
<line x1="91.4" y1="384.5" x2="91.4" y2="519.4" stroke="#3bf60e" stroke-width="1.5"/>
<line x1="84.9" y1="384.5" x2="97.9" y2="384.5" stroke="#3bf60e" stroke-width="1.5"/>
<line x1="84.9" y1="519.4" x2="97.9" y2="519.4" stroke="#3bf60e" stroke-width="1.5"/>
<line x1="79.0" y1="452.3" x2="103.7" y2="452.3" stroke="#3bf60e" stroke-width="1.5"/>
<circle cx="91.7" cy="347.3" r="3.35" fill="none" stroke="#3bf60e" stroke-width="1.2"/>
<circle cx="91.4" cy="432.9" r="3.50" fill="#3bf60e"/>
<circle cx="91.4" cy="460.3" r="3.23" fill="none" stroke="#3bf60e" stroke-width="1.25"/>
<circle cx="87.0" cy="512.3" r="3.50" fill="#3bf60e"/>
<circle cx="96.3" cy="508.6" r="3.23" fill="none" stroke="#3bf60e" stroke-width="1.25"/>
<line x1="129.8" y1="452.4" x2="129.8" y2="541.5" stroke="#2a06a2" stroke-width="1.5"/>
<line x1="123.95000000000002" y1="452.4" x2="135.65" y2="452.4" stroke="#2a06a2" stroke-width="1.5"/>
<line x1="123.95000000000002" y1="541.5" x2="135.65" y2="541.5" stroke="#2a06a2" stroke-width="1.5"/>
<line x1="117.0" y1="497.2" x2="142.5" y2="497.2" stroke="#2a06a2" stroke-width="1.5"/>
<polygon points="125.3,447.05 128.80,453.35 121.80,453.35" fill="#2a06a2"/>
<polygon points="134.6,450.21 138.09,456.19 131.10,456.19" fill="none" stroke="#2a06a2" stroke-width="1.3" stroke-linejoin="round"/>
<polygon points="129.8,498.51 133.30,504.49 126.31,504.49" fill="none" stroke="#2a06a2" stroke-width="1.3" stroke-linejoin="round"/>
<polygon points="129.8,526.85 133.30,533.15 126.30,533.15" fill="#2a06a2"/>
<polygon points="129.8,547.01 133.30,552.99 126.31,552.99" fill="none" stroke="#2a06a2" stroke-width="1.3" stroke-linejoin="round"/>
<line x1="180.4" y1="482.4" x2="180.4" y2="554.0" stroke="#3bf60e" stroke-width="1.5"/>
<line x1="174.20000000000002" y1="482.4" x2="186.6" y2="482.4" stroke="#3bf60e" stroke-width="1.5"/>
<line x1="174.20000000000002" y1="554.0" x2="186.6" y2="554.0" stroke="#3bf60e" stroke-width="1.5"/>
<line x1="168.0" y1="518.5" x2="193.0" y2="518.5" stroke="#3bf60e" stroke-width="1.5"/>
<circle cx="180.4" cy="477.7" r="3.23" fill="none" stroke="#3bf60e" stroke-width="1.25"/>
<circle cx="180.4" cy="491.7" r="3.23" fill="none" stroke="#3bf60e" stroke-width="1.25"/>
<circle cx="180.4" cy="512.2" r="3.50" fill="#3bf60e"/>
<circle cx="180.4" cy="549.8" r="3.50" fill="#3bf60e"/>
<circle cx="180.4" cy="560.3" r="3.23" fill="none" stroke="#3bf60e" stroke-width="1.25"/>
<line x1="218.6" y1="493.6" x2="218.6" y2="560.4" stroke="#2a06a2" stroke-width="1.5"/>
<line x1="212.2" y1="493.6" x2="225.0" y2="493.6" stroke="#2a06a2" stroke-width="1.5"/>
<line x1="212.2" y1="560.4" x2="225.0" y2="560.4" stroke="#2a06a2" stroke-width="1.5"/>
<line x1="206.3" y1="527.0" x2="230.7" y2="527.0" stroke="#2a06a2" stroke-width="1.5"/>
<polygon points="218.6,481.75 222.10,488.05 215.10,488.05" fill="#2a06a2"/>
<polygon points="218.6,499.11 222.09,505.09 215.10,505.09" fill="none" stroke="#2a06a2" stroke-width="1.3" stroke-linejoin="round"/>
<polygon points="218.6,527.21 222.09,533.19 215.10,533.19" fill="none" stroke="#2a06a2" stroke-width="1.3" stroke-linejoin="round"/>
<polygon points="214.3,557.61 217.80,563.59 210.81,563.59" fill="none" stroke="#2a06a2" stroke-width="1.3" stroke-linejoin="round"/>
<polygon points="223.1,557.25 226.60,563.55 219.60,563.55" fill="#2a06a2"/>
</svg>
</body></html>
